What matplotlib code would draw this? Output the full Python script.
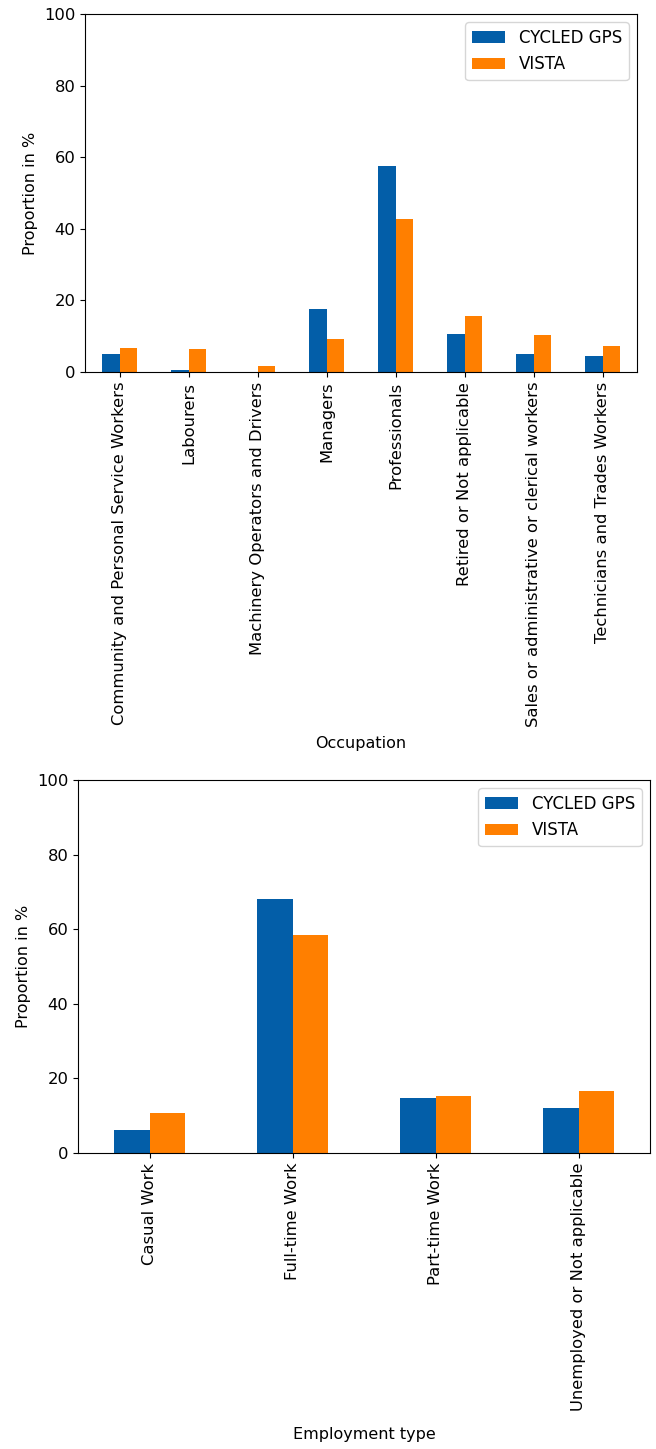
import numpy as np
import matplotlib
matplotlib.use('Agg')
import matplotlib.pyplot as plt

# data
occupations = ['Community and Personal Service Workers', 'Labourers',
               'Machinery Operators and Drivers', 'Managers', 'Professionals',
               'Retired or Not applicable', 'Sales or administrative or clerical workers',
               'Technicians and Trades Workers']
occ_gps = [5.1, 0.5, 0.0, 17.5, 57.5, 10.6, 5.1, 4.6]
occ_vista = [6.8, 6.3, 1.8, 9.2, 42.8, 15.7, 10.2, 7.4]

employment = ['Casual Work', 'Full-time Work', 'Part-time Work', 'Unemployed or Not applicable']
emp_gps = [6.2, 68.0, 14.8, 12.1]
emp_vista = [10.7, 58.5, 15.4, 16.7]

blue = '#035ea8'
orange = '#ff7f00'
fs = 11.8

fig = plt.figure(figsize=(6.56, 14.49), dpi=100)
ax1 = fig.add_axes([85/656, 1-372/1449, 552/656, 358/1449])
ax2 = fig.add_axes([78/656, 1-1153/1449, 572/656, 373/1449])


def draw(ax, cats, gps, vista, xlabel, pad):
    x = np.arange(len(cats))
    w = 0.25
    ax.bar(x - w/2, gps, w, color=blue, label='CYCLED GPS')
    ax.bar(x + w/2, vista, w, color=orange, label='VISTA')
    ax.set_xlim(-0.5, len(cats) - 0.5)
    ax.set_ylim(0, 100)
    ax.set_xticks(x)
    ax.set_xticklabels(cats, rotation=90, fontsize=fs)
    ax.tick_params(axis='y', labelsize=fs)
    ax.set_ylabel('Proportion in %', fontsize=11.5)
    ax.set_xlabel(xlabel, fontsize=11.5, labelpad=pad)
    ax.legend(loc='upper right', fontsize=12)


draw(ax1, occupations, occ_gps, occ_vista, 'Occupation', 6)
draw(ax2, employment, emp_gps, emp_vista, 'Employment type', 11)

fig.savefig('out.png', dpi=100)
